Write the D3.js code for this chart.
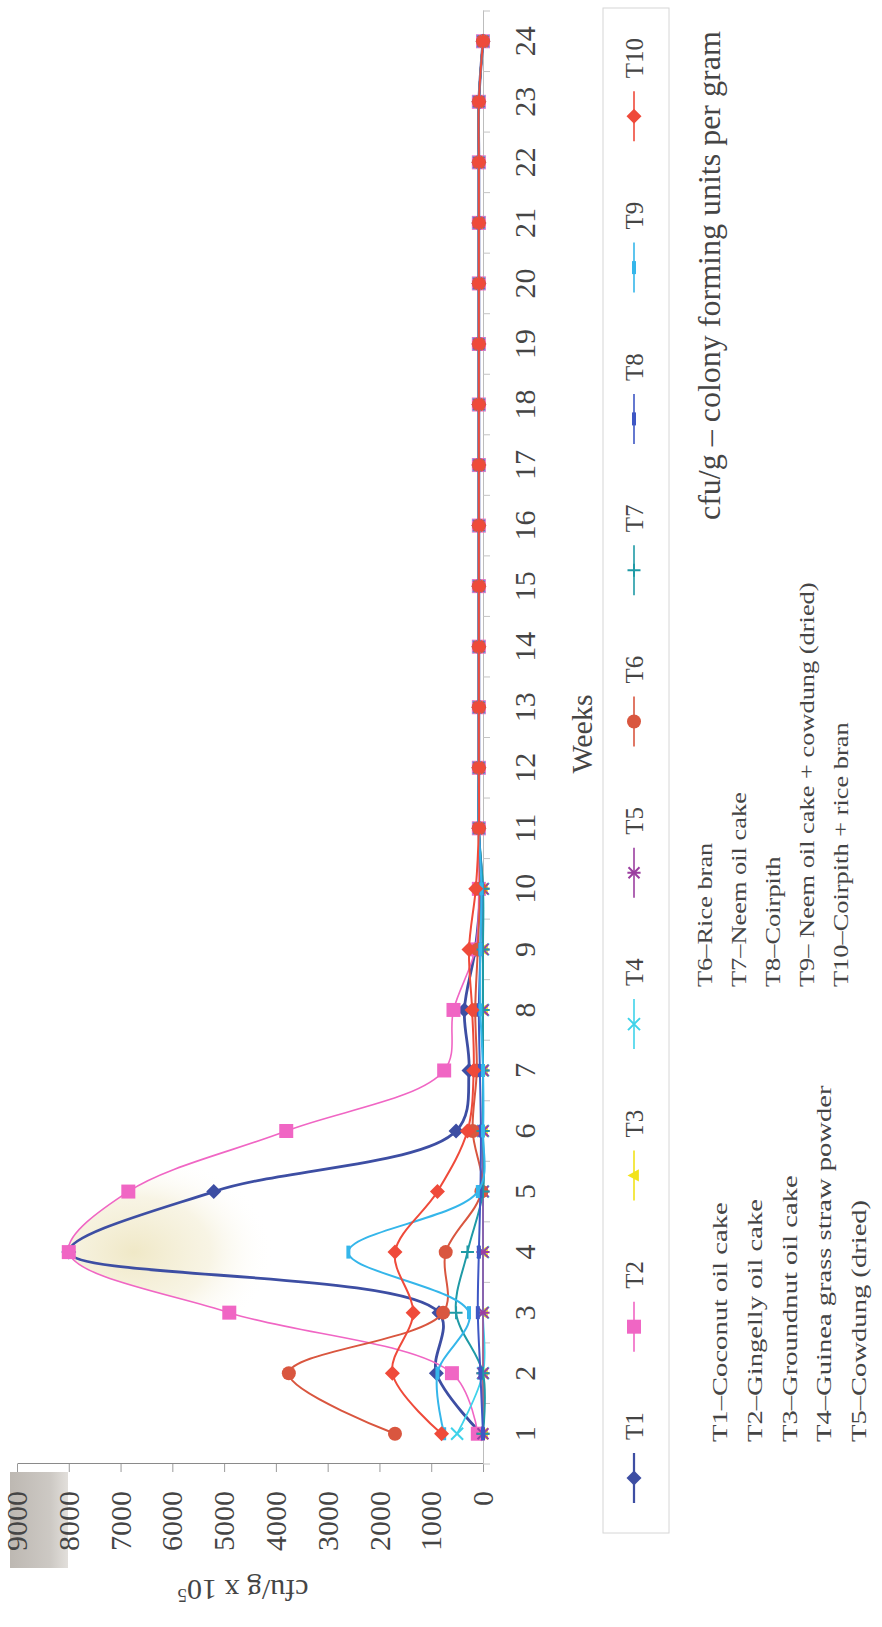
<!DOCTYPE html>
<html>
<head>
<meta charset="utf-8">
<script src="https://cdn.jsdelivr.net/npm/d3@7"></script>
<style>
  body { margin: 0; background: #fff; }
  svg { display: block; }
  text { font-family: "Liberation Serif", "Times New Roman", serif; fill: #454545; }
</style>
</head>
<body>
<svg id="chart" width="882" height="1627"></svg>
<script>
// ---- data -------------------------------------------------------------
const weeks = d3.range(1, 25);
const weekLabels = weeks.map(String);
const valueTicks = [0, 1000, 2000, 3000, 4000, 5000, 6000, 7000, 8000, 9000];
const seriesNames = ["T1", "T2", "T3", "T4", "T5", "T6", "T7", "T8", "T9", "T10"];

const late = [80, 80, 80, 80, 80, 80, 80, 80, 80, 80, 80, 80, 80, 0]; // weeks 11-24
const t1  = [30, 900, 850, 8000, 5200, 520, 270, 360, 150, 50].concat(late);
const t2  = [100, 600, 4900, 8000, 6850, 3800, 750, 570, 150, 80].concat(late);
const t3  = [0, 0, 0, 0, 0, 0, 0, 0, 0, 0].concat(late);
const t4  = [500, 0, 0, 0, 0, 0, 0, 0, 0, 0].concat(late);
const t5  = [0, 0, 0, 0, 0, 0, 0, 0, 0, 0].concat(late);
const t6  = [1700, 3750, 770, 720, 30, 200, 120, 150, 100, 60].concat(late);
const t7  = [0, 0, 520, 300, 0, 0, 0, 0, 0, 0].concat(late);
const t8  = [0, 50, 100, 80, 50, 40, 60, 80, 50, 30].concat(late);
const t9  = [750, 880, 270, 2600, 100, 0, 0, 50, 50, 30].concat(late);
const t10 = [800, 1750, 1350, 1700, 880, 300, 180, 210, 270, 140].concat(late);
const seriesValues = [t1, t2, t3, t4, t5, t6, t7, t8, t9, t10];

const notesLeft = [
  "T1\u2013Coconut oil cake",
  "T2\u2013Gingelly oil cake",
  "T3\u2013Groundnut oil cake",
  "T4\u2013Guinea grass straw powder",
  "T5\u2013Cowdung (dried)"
];
const notesRight = [
  "T6\u2013Rice bran",
  "T7\u2013Neem oil cake",
  "T8\u2013Coirpith",
  "T9\u2013 Neem oil cake + cowdung (dried)",
  "T10\u2013Coirpith + rice bran"
];

// ---- styles -------------------------------------------------------------
const styles = [
  { color: "#3d4ea3", marker: "diamond",  width: 2.8 },
  { color: "#f066c4", marker: "square",   width: 1.6 },
  { color: "#f2e31a", marker: "triangle", width: 1.5 },
  { color: "#3fd3ea", marker: "x",        width: 1.8 },
  { color: "#9b3fa0", marker: "star",     width: 1.5 },
  { color: "#d9563f", marker: "circle",   width: 2.0 },
  { color: "#1f9aa6", marker: "plus",     width: 2.0 },
  { color: "#3e57c4", marker: "dash",     width: 2.0 },
  { color: "#35b6ea", marker: "dash",     width: 2.0 },
  { color: "#ef4a3a", marker: "diamond",  width: 2.0 }
];

const shapes = {
  diamond:  r => `M0,${-r}L${r},0L0,${r}L${-r},0Z`,
  square:   r => `M${-r},${-r}H${r}V${r}H${-r}Z`,
  triangle: r => `M0,${-r}L${r * 0.95},${r * 0.75}L${-r * 0.95},${r * 0.75}Z`,
  circle:   r => d3.symbol(d3.symbolCircle, Math.PI * r * r)(),
  x:        r => `M${-r},${-r}L${r},${r}M${-r},${r}L${r},${-r}`,
  star:     r => `M${-r},${-r}L${r},${r}M${-r},${r}L${r},${-r}M0,${-r * 1.2}V${r * 1.2}`,
  plus:     r => `M${-r},0H${r}M0,${-r}V${r}`,
  dash:     r => `M${-r},-2H${r}V2H${-r}Z`
};
const markerSize = { diamond: 7.5, square: 7, triangle: 6.5, circle: 7, x: 6, star: 5.5, plus: 6.5, dash: 6.5 };
const stroked = new Set(["x", "star", "plus"]);

function drawMarker(sel, st) {
  const r = markerSize[st.marker];
  sel.append("path")
    .attr("d", shapes[st.marker](r))
    .attr("fill", stroked.has(st.marker) ? "none" : st.color)
    .attr("stroke", stroked.has(st.marker) ? st.color : "none")
    .attr("stroke-width", 2);
}

// ---- layout ---------------------------------------------------------------
const W = 882, H = 1627;
const svg = d3.select("#chart");
const defs = svg.append("defs");

// greyish paper patch behind the top value labels
const pg = defs.append("linearGradient").attr("id", "patch").attr("x1", 0).attr("x2", 1);
pg.append("stop").attr("offset", "0%").attr("stop-color", "#bdb8b2");
pg.append("stop").attr("offset", "70%").attr("stop-color", "#cdc9c4");
pg.append("stop").attr("offset", "100%").attr("stop-color", "#e2dfdb");
svg.append("rect").attr("x", 10).attr("y", 1472).attr("width", 58).attr("height", 96)
  .attr("fill", "url(#patch)");

// the chart is laid out landscape and turned a quarter turn counter-clockwise
const g = svg.append("g").attr("transform", `translate(0,${H}) rotate(-90)`);

const x = d3.scaleBand().domain(weeks).range([163, 1616]);
const xc = w => x(w) + x.bandwidth() / 2;
const y = d3.scaleLinear().domain([0, 9000]).range([483, 17]);

// value axis
g.append("g")
  .attr("transform", `translate(${x.range()[0]},0)`)
  .call(d3.axisLeft(y).tickValues(valueTicks).tickFormat(d3.format("d"))
    .tickSize(8).tickSizeOuter(0).tickPadding(19))
  .call(a => {
    a.select(".domain").attr("stroke", "#8a8a8a");
    a.selectAll(".tick line").attr("stroke", "#9a9a9a");
    a.selectAll(".tick text").attr("font-size", 30);
  });

// week axis (crosses at zero)
g.append("g")
  .attr("transform", `translate(0,${y(0)})`)
  .call(d3.axisBottom(x).tickSize(0).tickPadding(31).tickFormat((d, i) => weekLabels[i]))
  .call(a => {
    a.select(".domain").attr("stroke", "#bdbdbd");
    a.selectAll(".tick text").attr("font-size", 30);
  });

// category boundary ticks
g.append("g").selectAll("line")
  .data(d3.range(weeks.length + 1))
  .join("line")
  .attr("x1", i => x.range()[0] + i * x.step())
  .attr("x2", i => x.range()[0] + i * x.step())
  .attr("y1", y(0)).attr("y2", y(0) + 7)
  .attr("stroke", "#c4c4c4");

// axis titles
g.append("text")
  .attr("transform", "translate(47,243) rotate(-90)")
  .attr("text-anchor", "middle")
  .attr("font-size", 30)
  .call(t => {
    t.append("tspan").text("cfu/g x 10");
    t.append("tspan").attr("dy", "-0.45em").attr("font-size", 19).text("5");
  });

g.append("text")
  .attr("x", 893)
  .attr("y", 592)
  .attr("text-anchor", "middle")
  .attr("font-size", 30)
  .text("Weeks");

// soft yellowish sheen inside the peak of T2
const line = d3.line()
  .x((d, i) => xc(weeks[i]))
  .y(d => y(d))
  .curve(d3.curveCatmullRom.alpha(0.5));
const area = d3.area()
  .x((d, i) => xc(weeks[i]))
  .y0(y(0))
  .y1(d => y(d))
  .curve(d3.curveCatmullRom.alpha(0.5));

const glow = defs.append("radialGradient").attr("id", "glow");
glow.append("stop").attr("offset", "0%").attr("stop-color", "#efe7c4").attr("stop-opacity", 0.95);
glow.append("stop").attr("offset", "55%").attr("stop-color", "#f3edd3").attr("stop-opacity", 0.6);
glow.append("stop").attr("offset", "100%").attr("stop-color", "#ffffff").attr("stop-opacity", 0);
defs.append("clipPath").attr("id", "peakClip").append("path").attr("d", area(t2));
g.append("ellipse")
  .attr("cx", xc(4)).attr("cy", y(8000) + 65)
  .attr("rx", 100).attr("ry", 140)
  .attr("fill", "url(#glow)")
  .attr("clip-path", "url(#peakClip)");

// series
seriesValues.forEach((vals, s) => {
  const st = styles[s];
  const sg = g.append("g").attr("class", "series-" + seriesNames[s]);
  sg.append("path")
    .attr("d", line(vals))
    .attr("fill", "none")
    .attr("stroke", st.color)
    .attr("stroke-width", st.width)
    .attr("stroke-linejoin", "round");
  sg.selectAll("g.pt")
    .data(vals)
    .join("g")
    .attr("class", "pt")
    .attr("transform", (d, i) => `translate(${xc(weeks[i])},${y(d)})`)
    .each(function () { drawMarker(d3.select(this), st); });
});

// legend
const legend = g.append("g");
legend.append("rect")
  .attr("x", 94).attr("y", 603).attr("width", 1525).attr("height", 66)
  .attr("fill", "none").attr("stroke", "#d6d6d6");
seriesNames.forEach((name, i) => {
  const cx = 149 + i * 151.3;
  const st = styles[i];
  const it = legend.append("g").attr("transform", `translate(${cx},634)`);
  it.append("line").attr("x1", -25).attr("x2", 25)
    .attr("stroke", st.color).attr("stroke-width", Math.max(1.6, st.width * 0.8));
  drawMarker(it, st);
  legend.append("text")
    .attr("x", cx + 38).attr("y", 643)
    .attr("font-size", 25)
    .text(name);
});

// notes (typed in a wide face)
g.append("g").selectAll("text")
  .data(notesLeft)
  .join("text")
  .attr("transform", (d, i) => `translate(185,${727 + i * 34.8}) scale(1.3,1)`)
  .attr("font-size", 22)
  .text(d => d);

g.append("g").selectAll("text")
  .data(notesRight)
  .join("text")
  .attr("transform", (d, i) => `translate(640,${712 + i * 34}) scale(1.2,1)`)
  .attr("font-size", 22)
  .text(d => d);

g.append("text")
  .attr("x", 1107)
  .attr("y", 720)
  .attr("font-size", 32)
  .text("cfu/g \u2013 colony forming units per gram");
</script>
</body>
</html>
